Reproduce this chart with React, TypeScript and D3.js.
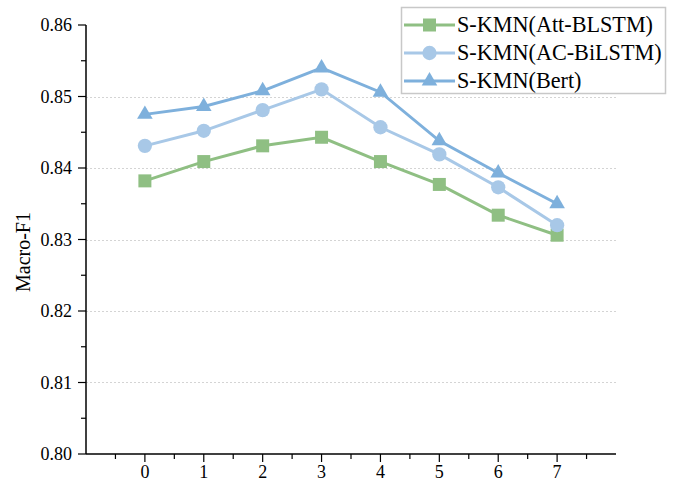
import { useRef, useEffect } from 'react';
import * as d3 from 'd3';

const W = 676;
const H = 483;

const xTicks = [0, 1, 2, 3, 4, 5, 6, 7];
const yTicks = [0.8, 0.81, 0.82, 0.83, 0.84, 0.85, 0.86];
const gridTicks = [0.81, 0.82, 0.83, 0.84, 0.85];

const attBlstm = [0.8382, 0.8409, 0.8431, 0.8443, 0.8409, 0.8377, 0.8334, 0.8306];
const acBilstm = [0.8431, 0.8452, 0.8481, 0.851, 0.8457, 0.8419, 0.8373, 0.832];
const bert = [0.8475, 0.8486, 0.8508, 0.854, 0.8506, 0.8438, 0.8393, 0.835];

const seriesNames = ['S-KMN(Att-BLSTM)', 'S-KMN(AC-BiLSTM)', 'S-KMN(Bert)'];
const seriesColors = ['#8fbf83', '#a8c8e7', '#7eb0dc'];

const M = { top: 25, right: 60, bottom: 29, left: 86 };
const FONT = 'Liberation Serif, DejaVu Serif, serif';

export default function App() {
  const svgRef = useRef<SVGSVGElement>(null);

  useEffect(() => {
    const svg = d3.select(svgRef.current);
    svg.selectAll('*').remove();

    const x = d3.scaleLinear().domain([-1, 8]).range([M.left, W - M.right]);
    const y = d3.scaleLinear().domain([0.8, 0.86]).range([H - M.bottom, M.top]);

    svg.append('rect').attr('width', W).attr('height', H).attr('fill', '#ffffff');

    // dashed grid
    gridTicks.forEach((t) => {
      svg
        .append('line')
        .attr('x1', x(-1))
        .attr('x2', x(8))
        .attr('y1', Math.round(y(t)) + 0.5)
        .attr('y2', Math.round(y(t)) + 0.5)
        .attr('stroke', '#d4d4d4')
        .attr('stroke-width', 1)
        .attr('stroke-dasharray', '2,2');
    });

    // y axis
    const y0 = y(0.8);
    svg
      .append('line')
      .attr('x1', x(-1))
      .attr('x2', x(-1))
      .attr('y1', y(0.86))
      .attr('y2', y0)
      .attr('stroke', '#000')
      .attr('stroke-width', 1.5);
    d3.range(0.8, 0.8601, 0.005).forEach((t, i) => {
      const major = i % 2 === 0;
      svg
        .append('line')
        .attr('x1', x(-1))
        .attr('x2', x(-1) - (major ? 8 : 5))
        .attr('y1', y(t))
        .attr('y2', y(t))
        .attr('stroke', '#000')
        .attr('stroke-width', 1.2);
    });
    yTicks.forEach((t) => {
      svg
        .append('text')
        .attr('x', x(-1) - 14)
        .attr('y', y(t) + 6)
        .attr('text-anchor', 'end')
        .style('font-family', FONT)
        .style('font-size', '18px')
        .attr('fill', '#000')
        .text(t.toFixed(2));
    });

    // x axis
    svg
      .append('line')
      .attr('x1', x(-1))
      .attr('x2', x(8))
      .attr('y1', y0)
      .attr('y2', y0)
      .attr('stroke', '#000')
      .attr('stroke-width', 1.5);
    d3.range(-0.5, 7.51, 0.5).forEach((t) => {
      const major = Number.isInteger(t) && t >= 0;
      svg
        .append('line')
        .attr('x1', x(t))
        .attr('x2', x(t))
        .attr('y1', y0)
        .attr('y2', y0 + (major ? 8 : 5))
        .attr('stroke', '#000')
        .attr('stroke-width', 1.2);
    });
    xTicks.forEach((t) => {
      svg
        .append('text')
        .attr('x', x(t))
        .attr('y', y0 + 24)
        .attr('text-anchor', 'middle')
        .style('font-family', FONT)
        .style('font-size', '18px')
        .attr('fill', '#000')
        .text(String(t));
    });

    // axis title
    svg
      .append('text')
      .attr('transform', 'rotate(-90)')
      .attr('x', -252)
      .attr('y', 30)
      .attr('text-anchor', 'middle')
      .style('font-family', FONT)
      .style('font-size', '20px')
      .attr('fill', '#000')
      .text('Macro-F1');

    const symbols = [
      d3.symbol().type(d3.symbolSquare).size(169),
      d3.symbol().type(d3.symbolCircle).size(160),
      d3.symbol().type(d3.symbolTriangle).size(105),
    ];
    const allData = [attBlstm, acBilstm, bert];

    const line = d3
      .line<number>()
      .x((_, i) => x(xTicks[i]))
      .y((d) => y(d));

    allData.forEach((vals, s) => {
      svg
        .append('path')
        .attr('d', line(vals))
        .attr('fill', 'none')
        .attr('stroke', seriesColors[s])
        .attr('stroke-width', 3);
      vals.forEach((v, i) => {
        svg
          .append('path')
          .attr('d', symbols[s]()!)
          .attr('transform', `translate(${x(xTicks[i])},${y(v)})`)
          .attr('fill', seriesColors[s]);
      });
    });

    // legend
    const lg = svg.append('g');
    lg.append('rect')
      .attr('x', 401.5)
      .attr('y', 7.5)
      .attr('width', 264)
      .attr('height', 86)
      .attr('fill', '#fff')
      .attr('stroke', '#c8c8c8')
      .attr('stroke-width', 1.5);
    seriesNames.forEach((name, s) => {
      const cy = 25 + s * 28;
      lg.append('line')
        .attr('x1', 404)
        .attr('x2', 455)
        .attr('y1', cy)
        .attr('y2', cy)
        .attr('stroke', seriesColors[s])
        .attr('stroke-width', 3);
      lg.append('path')
        .attr('d', symbols[s]()!)
        .attr('transform', `translate(429.5,${cy})`)
        .attr('fill', seriesColors[s]);
      lg.append('text')
        .attr('x', 457)
        .attr('y', cy + 7)
        .style('font-family', FONT)
        .style('font-size', '22.2px')
        .attr('fill', '#000')
        .text(name);
    });
  }, []);

  return (
    <svg
      ref={svgRef}
      width={W}
      height={H}
      style={{ position: 'absolute', left: 0, top: 0 }}
    />
  );
}
